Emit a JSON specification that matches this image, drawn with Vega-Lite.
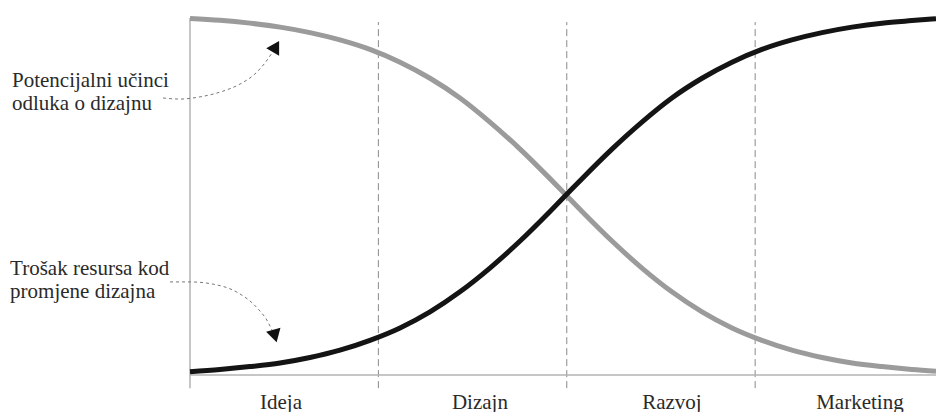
{
  "$schema": "https://vega.github.io/schema/vega-lite/v6.json",
  "width": 746,
  "height": 365,
  "autosize": "none",
  "padding": {"left": 190, "top": 10, "right": 0, "bottom": 37},
  "background": "white",
  "config": {"view": {"stroke": null}},
  "datasets": {
    "curves": [
      {"s": "Potencijalni učinci", "x": 0, "y": 0.977},
      {"s": "Potencijalni učinci", "x": 0.159, "y": 0.972},
      {"s": "Potencijalni učinci", "x": 0.318, "y": 0.964},
      {"s": "Potencijalni učinci", "x": 0.478, "y": 0.953},
      {"s": "Potencijalni učinci", "x": 0.637, "y": 0.938},
      {"s": "Potencijalni učinci", "x": 0.796, "y": 0.918},
      {"s": "Potencijalni učinci", "x": 0.955, "y": 0.892},
      {"s": "Potencijalni učinci", "x": 1.115, "y": 0.857},
      {"s": "Potencijalni učinci", "x": 1.274, "y": 0.813},
      {"s": "Potencijalni učinci", "x": 1.433, "y": 0.759},
      {"s": "Potencijalni učinci", "x": 1.592, "y": 0.693},
      {"s": "Potencijalni učinci", "x": 1.752, "y": 0.619},
      {"s": "Potencijalni učinci", "x": 1.911, "y": 0.538},
      {"s": "Potencijalni učinci", "x": 1.996, "y": 0.493},
      {"s": "Potencijalni učinci", "x": 2.081, "y": 0.448},
      {"s": "Potencijalni učinci", "x": 2.24, "y": 0.367},
      {"s": "Potencijalni učinci", "x": 2.399, "y": 0.293},
      {"s": "Potencijalni učinci", "x": 2.558, "y": 0.228},
      {"s": "Potencijalni učinci", "x": 2.718, "y": 0.173},
      {"s": "Potencijalni učinci", "x": 2.877, "y": 0.129},
      {"s": "Potencijalni učinci", "x": 3.036, "y": 0.095},
      {"s": "Potencijalni učinci", "x": 3.195, "y": 0.068},
      {"s": "Potencijalni učinci", "x": 3.355, "y": 0.048},
      {"s": "Potencijalni učinci", "x": 3.514, "y": 0.033},
      {"s": "Potencijalni učinci", "x": 3.673, "y": 0.023},
      {"s": "Potencijalni učinci", "x": 3.832, "y": 0.015},
      {"s": "Potencijalni učinci", "x": 3.96, "y": 0.01},
      {"s": "Trošak resursa", "x": 0, "y": 0.009},
      {"s": "Trošak resursa", "x": 0.159, "y": 0.015},
      {"s": "Trošak resursa", "x": 0.318, "y": 0.023},
      {"s": "Trošak resursa", "x": 0.478, "y": 0.033},
      {"s": "Trošak resursa", "x": 0.637, "y": 0.048},
      {"s": "Trošak resursa", "x": 0.796, "y": 0.068},
      {"s": "Trošak resursa", "x": 0.955, "y": 0.095},
      {"s": "Trošak resursa", "x": 1.115, "y": 0.129},
      {"s": "Trošak resursa", "x": 1.274, "y": 0.173},
      {"s": "Trošak resursa", "x": 1.433, "y": 0.228},
      {"s": "Trošak resursa", "x": 1.592, "y": 0.293},
      {"s": "Trošak resursa", "x": 1.752, "y": 0.367},
      {"s": "Trošak resursa", "x": 1.911, "y": 0.448},
      {"s": "Trošak resursa", "x": 1.996, "y": 0.493},
      {"s": "Trošak resursa", "x": 2.081, "y": 0.538},
      {"s": "Trošak resursa", "x": 2.24, "y": 0.619},
      {"s": "Trošak resursa", "x": 2.399, "y": 0.693},
      {"s": "Trošak resursa", "x": 2.558, "y": 0.759},
      {"s": "Trošak resursa", "x": 2.718, "y": 0.813},
      {"s": "Trošak resursa", "x": 2.877, "y": 0.857},
      {"s": "Trošak resursa", "x": 3.036, "y": 0.892},
      {"s": "Trošak resursa", "x": 3.195, "y": 0.918},
      {"s": "Trošak resursa", "x": 3.355, "y": 0.938},
      {"s": "Trošak resursa", "x": 3.514, "y": 0.953},
      {"s": "Trošak resursa", "x": 3.673, "y": 0.964},
      {"s": "Trošak resursa", "x": 3.832, "y": 0.971},
      {"s": "Trošak resursa", "x": 3.96, "y": 0.976}
    ],
    "dividers": [
      {"x": 1, "y1": -0.036, "y2": 0.967},
      {"x": 2, "y1": -0.036, "y2": 0.967},
      {"x": 3, "y1": -0.036, "y2": 0.967}
    ],
    "vaxis": [{"x": 0, "y1": -0.036, "y2": 0.978}],
    "haxis": [{"x1": 0, "x2": 3.96, "y": 0}],
    "pointers": [
      {"id": "top", "o": 1, "x": -0.143, "y": 0.759},
      {"id": "top", "o": 2, "x": -0.053, "y": 0.756},
      {"id": "top", "o": 3, "x": 0.053, "y": 0.762},
      {"id": "top", "o": 4, "x": 0.159, "y": 0.775},
      {"id": "top", "o": 5, "x": 0.265, "y": 0.797},
      {"id": "top", "o": 6, "x": 0.345, "y": 0.825},
      {"id": "top", "o": 7, "x": 0.398, "y": 0.855},
      {"id": "top", "o": 8, "x": 0.435, "y": 0.882},
      {"id": "bottom", "o": 1, "x": -0.106, "y": 0.255},
      {"id": "bottom", "o": 2, "x": 0, "y": 0.255},
      {"id": "bottom", "o": 3, "x": 0.122, "y": 0.249},
      {"id": "bottom", "o": 4, "x": 0.249, "y": 0.227},
      {"id": "bottom", "o": 5, "x": 0.356, "y": 0.184},
      {"id": "bottom", "o": 6, "x": 0.414, "y": 0.145},
      {"id": "bottom", "o": 7, "x": 0.435, "y": 0.123}
    ],
    "heads": [
      {"x": 0.456, "y": 0.9, "angle": 30},
      {"x": 0.451, "y": 0.107, "angle": 165}
    ],
    "notes": [
      {"x": -0.945, "y": 0.789, "t": "Potencijalni učinci"},
      {"x": -0.945, "y": 0.726, "t": "odluka o dizajnu"},
      {"x": -0.955, "y": 0.274, "t": "Trošak resursa kod"},
      {"x": -0.955, "y": 0.211, "t": "promjene dizajna"}
    ],
    "stages": [
      {"x": 0.483, "y": -0.093, "t": "Ideja"},
      {"x": 1.539, "y": -0.093, "t": "Dizajn"},
      {"x": 2.558, "y": -0.093, "t": "Razvoj"},
      {"x": 3.556, "y": -0.093, "t": "Marketing"}
    ]
  },
  "layer": [
    {
      "data": {"name": "dividers"},
      "mark": {"type": "rule", "color": "#8a8a8a", "strokeWidth": 1, "strokeDash": [7, 4]},
      "encoding": {
        "x": {"field": "x", "type": "quantitative", "scale": {"domain": [0, 3.96], "nice": false, "zero": false}, "axis": null},
        "y": {"field": "y1", "type": "quantitative", "scale": {"domain": [0, 1], "nice": false}, "axis": null},
        "y2": {"field": "y2"}
      }
    },
    {
      "data": {"name": "vaxis"},
      "mark": {"type": "rule", "color": "#b3b3b3", "strokeWidth": 1.5},
      "encoding": {
        "x": {"field": "x", "type": "quantitative"},
        "y": {"field": "y1", "type": "quantitative"},
        "y2": {"field": "y2"}
      }
    },
    {
      "data": {"name": "haxis"},
      "mark": {"type": "rule", "color": "#b3b3b3", "strokeWidth": 1.5},
      "encoding": {
        "x": {"field": "x1", "type": "quantitative"},
        "x2": {"field": "x2"},
        "y": {"field": "y", "type": "quantitative"}
      }
    },
    {
      "data": {"name": "curves"},
      "mark": {"type": "line", "interpolate": "monotone", "strokeWidth": 5, "strokeCap": "butt"},
      "encoding": {
        "x": {"field": "x", "type": "quantitative"},
        "y": {"field": "y", "type": "quantitative"},
        "color": {"field": "s", "type": "nominal", "scale": {"domain": ["Potencijalni učinci", "Trošak resursa"], "range": ["#9b9b9b", "#141414"]}, "legend": null}
      }
    },
    {
      "data": {"name": "pointers"},
      "mark": {"type": "line", "interpolate": "monotone", "strokeWidth": 1, "strokeDash": [3, 3], "color": "#777777"},
      "encoding": {
        "x": {"field": "x", "type": "quantitative"},
        "y": {"field": "y", "type": "quantitative"},
        "detail": {"field": "id"},
        "order": {"field": "o", "type": "quantitative"}
      }
    },
    {
      "data": {"name": "heads"},
      "mark": {"type": "point", "shape": "triangle-up", "filled": true, "color": "#111111", "size": 220, "opacity": 1},
      "encoding": {
        "x": {"field": "x", "type": "quantitative"},
        "y": {"field": "y", "type": "quantitative"},
        "angle": {"field": "angle", "type": "quantitative", "scale": null}
      }
    },
    {
      "data": {"name": "notes"},
      "mark": {"type": "text", "align": "left", "baseline": "alphabetic", "font": "'Liberation Serif', 'Times New Roman', serif", "fontSize": 21, "color": "#2a2a2a"},
      "encoding": {
        "x": {"field": "x", "type": "quantitative"},
        "y": {"field": "y", "type": "quantitative"},
        "text": {"field": "t"}
      }
    },
    {
      "data": {"name": "stages"},
      "mark": {"type": "text", "align": "center", "baseline": "alphabetic", "font": "'Liberation Serif', 'Times New Roman', serif", "fontSize": 21, "color": "#2a2a2a"},
      "encoding": {
        "x": {"field": "x", "type": "quantitative"},
        "y": {"field": "y", "type": "quantitative"},
        "text": {"field": "t"}
      }
    }
  ]
}
